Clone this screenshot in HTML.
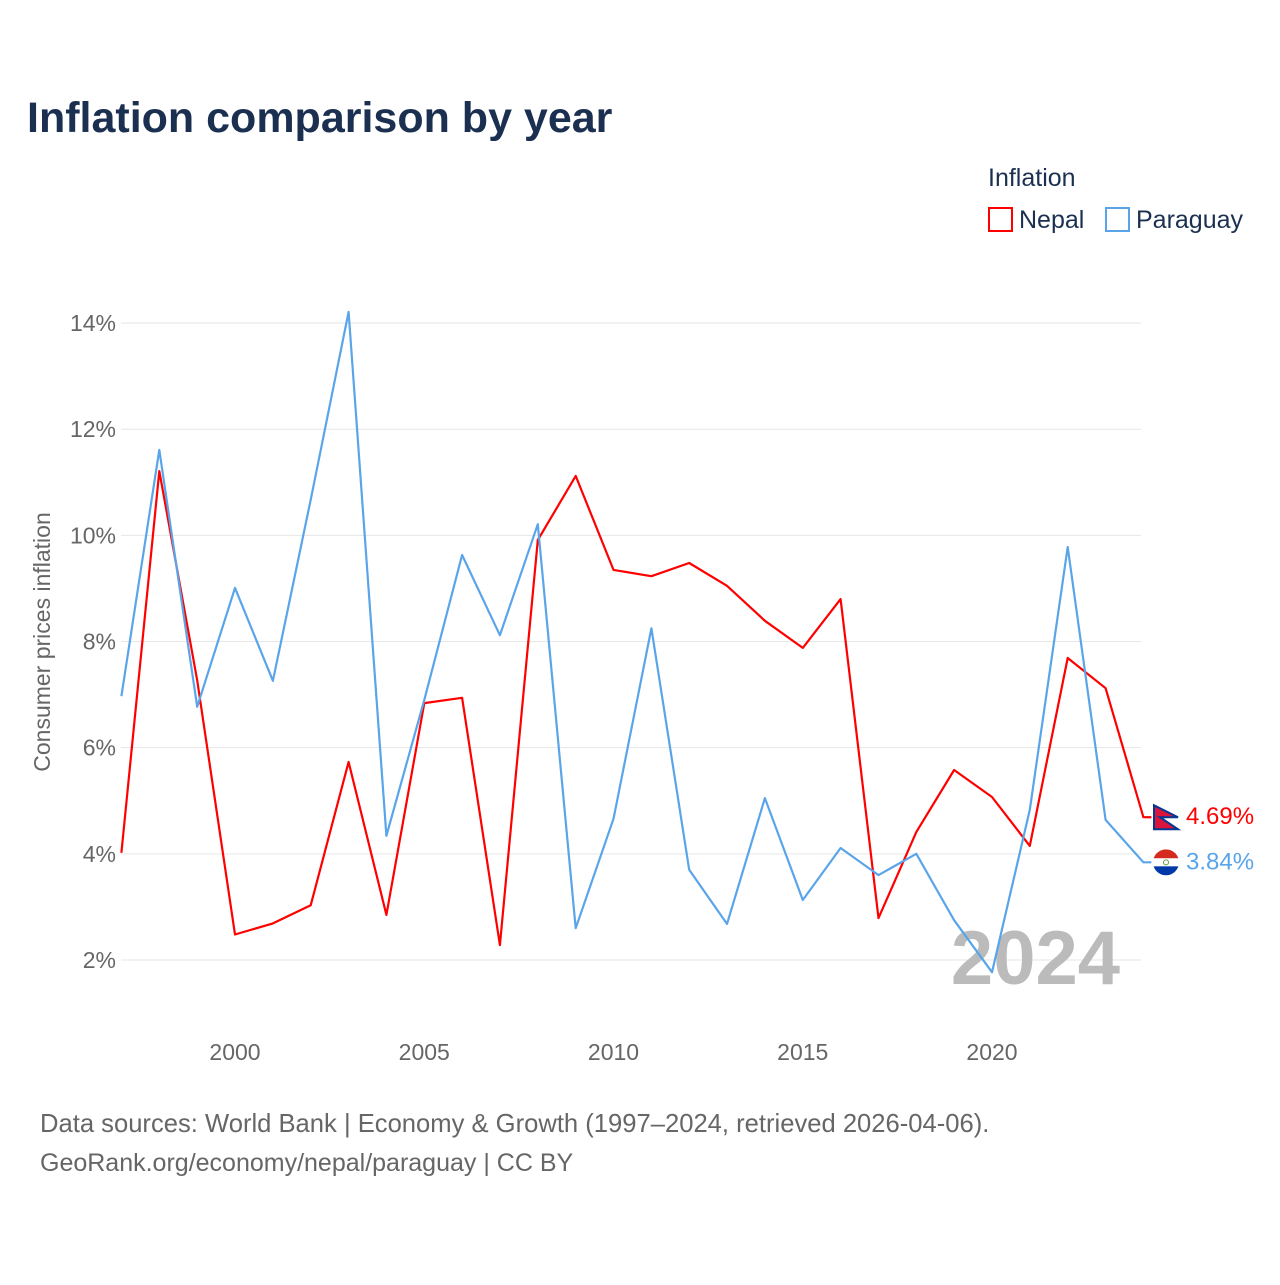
<!DOCTYPE html>
<html><head><meta charset="utf-8"><style>
body{margin:0;background:#fff;width:1280px;height:1280px;overflow:hidden;font-family:"Liberation Sans",sans-serif}
</style></head><body>
<svg id="c" width="1280" height="1280" xmlns="http://www.w3.org/2000/svg">
<text x="27" y="132" font-size="43" font-weight="bold" fill="#1b3050">Inflation comparison by year</text>
<g>
<text x="988" y="186" font-size="25" fill="#1b3050">Inflation</text>
<g><rect x="989" y="208" width="23" height="23" fill="none" stroke="#f00" stroke-width="2"/><text x="1019" y="228" font-size="25" fill="#1b3050">Nepal</text></g>
<g><rect x="1106" y="208" width="23" height="23" fill="none" stroke="#5aa5ea" stroke-width="2"/><text x="1136" y="228" font-size="25" fill="#1b3050">Paraguay</text></g>
</g>
<text transform="translate(50,642) rotate(-90)" text-anchor="middle" font-size="23" fill="#666">Consumer prices inflation</text>
<g id="grid"></g><g id="xt"></g>
<text x="1120" y="984" text-anchor="end" font-size="76" font-weight="bold" fill="#bbb">2024</text>
<g id="lines"></g>
<defs><clipPath id="pc"><circle cx="1166" cy="861" r="13"/></clipPath></defs>
<text x="40" y="1132" font-size="25.6" fill="#666">Data sources: World Bank | Economy &amp; Growth (1997–2024, retrieved 2026-04-06).</text>
<text x="40" y="1171" font-size="25" fill="#666">GeoRank.org/economy/nepal/paraguay | CC BY</text>
</svg>
<script>
const years=[1997,1998,1999,2000,2001,2002,2003,2004,2005,2006,2007,2008,2009,2010,2011,2012,2013,2014,2015,2016,2017,2018,2019,2020,2021,2022,2023,2024];
const nepal=[4.02,11.21,7.27,2.48,2.69,3.03,5.73,2.85,6.84,6.94,2.28,9.91,11.12,9.35,9.23,9.48,9.05,8.39,7.88,8.80,2.79,4.41,5.58,5.07,4.15,7.69,7.12,4.69];
const paraguay=[6.97,11.61,6.77,9.01,7.26,10.67,14.21,4.34,6.9,9.63,8.12,10.21,2.60,4.66,8.25,3.70,2.68,5.05,3.13,4.11,3.60,4.00,2.75,1.77,4.83,9.78,4.64,3.84];
const yTicks=[2,4,6,8,10,12,14];
const xTicks=[2000,2005,2010,2015,2020];
const NS="http://www.w3.org/2000/svg";
const X=y=>235+(y-2000)*37.85;
const Y=v=>960-(v-2)*53.08;
function mk(t,a,p){const e=document.createElementNS(NS,t);for(const k in a)e.setAttribute(k,a[k]);p.appendChild(e);return e;}
const g=document.getElementById('grid');
yTicks.forEach(v=>{
const l=mk('line',{x1:121,x2:1141,y1:Y(v),y2:Y(v),stroke:'#e6e6e6','stroke-width':1},g);


const t=mk('text',{x:116,y:Y(v)+8,'text-anchor':'end','font-size':23,fill:'#666'},g);t.textContent=v+'%';


});
const xt=document.getElementById('xt');
xTicks.forEach(v=>{const t=mk('text',{x:X(v),y:1060,'text-anchor':'middle','font-size':23,fill:'#666'},xt);t.textContent=v;

});
const L=document.getElementById('lines');
function series(d,col,name,lab){
const pts=d.map((v,i)=>X(years[i]).toFixed(1)+','+Y(v).toFixed(1));
const last=Y(d[d.length-1]);
pts.push((X(2024)+8)+','+last);
const p=mk('polyline',{points:pts.join(' '),fill:'none',stroke:col,'stroke-width':2.2,'stroke-linejoin':'round'},L);


const fg=mk('g',{},L);


if(name==='nepal'){
mk('circle',{cx:1166,cy:last,r:13,fill:'#fff'},fg);
mk('polygon',{points:`1154,${last-12} 1178,${last} 1160,${last} 1178,${last+12} 1154,${last+12}`,fill:'#dc143c',stroke:'#003893','stroke-width':2},fg);
}else{
const cid='pc'+name;
const cp=mk('clipPath',{id:cid},fg);mk('circle',{cx:1166,cy:last,r:13},cp);
mk('rect',{x:1153,y:last-13,width:26,height:9,fill:'#d52b1e','clip-path':`url(#${cid})`},fg);
mk('rect',{x:1153,y:last-4,width:26,height:8,fill:'#fff','clip-path':`url(#${cid})`},fg);
mk('rect',{x:1153,y:last+4,width:26,height:9,fill:'#0038a8','clip-path':`url(#${cid})`},fg);
mk('circle',{cx:1166,cy:last,r:2.5,fill:'none',stroke:'#6a9a3a','stroke-width':1},fg);
}
const t=mk('text',{x:1186,y:last+7,'font-size':24,fill:col},L);t.textContent=lab;


}
series(nepal,'#f00','nepal',nepal[27].toFixed(2)+'%');
series(paraguay,'#5aa5ea','paraguay',paraguay[27].toFixed(2)+'%');
</script>
</body></html>
